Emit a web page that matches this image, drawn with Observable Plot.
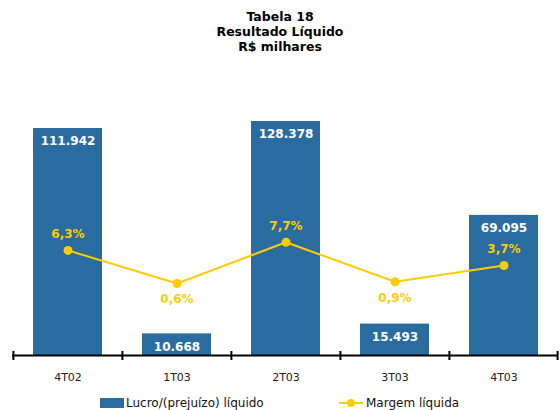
<!DOCTYPE html>
<html>
<head>
<meta charset="utf-8">
<script src="https://cdn.jsdelivr.net/npm/d3@7"></script>
<script src="https://cdn.jsdelivr.net/npm/@observablehq/plot@0.6"></script>
<style>
  body { margin: 0; width: 560px; height: 410px; overflow: hidden; background: #fff; font-family: "DejaVu Sans", sans-serif; position: relative; }
  #title { text-align: center; font-weight: bold; font-size: 12.5px; line-height: 15px; padding-top: 9px; height: 45px; color: #000; }
  #chart { height: 335px; }
  .leg { position: absolute; top: 396px; font-size: 12px; color: #111; display: flex; align-items: center; white-space: nowrap; }
  .sw { width: 24px; height: 10px; background: #2B6CA0; margin-right: 2px; }
  .ln { width: 24px; height: 10px; position: relative; margin-right: 3px; }
  .ln::before { content: ""; position: absolute; left: 0; right: 0; top: 4px; height: 2px; background: #FFCC00; }
  .ln::after { content: ""; position: absolute; left: 8px; top: 1px; width: 8px; height: 8px; border-radius: 50%; background: #FFCC00; }
</style>
</head>
<body>
<div id="title">Tabela 18<br>Resultado Líquido<br>R$ milhares</div>
<div id="chart"></div>
<div class="leg" style="left:100px"><div class="sw"></div>Lucro/(prejuízo) líquido</div>
<div class="leg" style="left:339px"><div class="ln"></div>Margem líquida</div>
<script>
const categories = ["4T02", "1T03", "2T03", "3T03", "4T03"];
const lucro = [111942, 10668, 128378, 15493, 69095];
const margem = [6.3, 0.6, 7.7, 0.9, 3.7];

const data = categories.map((c, i) => ({cat: c, lucro: lucro[i], margem: margem[i]}));

const loc = d3.formatLocale({decimal: ",", thousands: ".", grouping: [3], currency: ["R$", ""]});
const fmtInt = loc.format(",d");
const fmtPct = loc.format(".1f");

const W = 560, H = 335, mT = 67, mB = 34, mL = 12, mR = 2;
const yMax = 115400;
const bw = (W - mL - mR) / categories.length;
// secondary axis for the margin line
const m2y = d3.scaleLinear().domain([-11.8, 28.5]).range([0, yMax]);
const plotH = H - mT - mB;

const blue = "#2B6CA0", yellow = "#FFCC00";

const chart = Plot.plot({
  width: W, height: H,
  marginTop: mT, marginBottom: mB, marginLeft: mL, marginRight: mR,
  style: {fontFamily: "DejaVu Sans, sans-serif", background: "white"},
  x: {domain: categories, padding: 0, axis: null},
  y: {domain: [0, yMax], clamp: true, axis: null},
  marks: [
    Plot.barY(data, {x: "cat", y: "lucro", fill: blue, insetLeft: 20, insetRight: 20}),
    Plot.text(data, {x: "cat", y: "lucro", text: d => fmtInt(d.lucro), dy: 13, fill: "white", fontWeight: "bold", fontSize: 12}),
    Plot.ruleY([0], {stroke: "black", strokeWidth: 2}),
    Plot.ruleX(categories, {x: d => d, dx: -bw / 2, stroke: "black", strokeWidth: 2, insetTop: plotH - 4, insetBottom: -5}),
    Plot.ruleX(categories.slice(-1), {x: d => d, dx: bw / 2 - 1, stroke: "black", strokeWidth: 2, insetTop: plotH - 4, insetBottom: -5}),
    Plot.line(data, {x: "cat", y: d => m2y(d.margem), stroke: yellow, strokeWidth: 2}),
    Plot.dot(data, {x: "cat", y: d => m2y(d.margem), r: 4.5, fill: yellow}),
    Plot.text(data, {filter: d => d.margem >= 1, x: "cat", y: d => m2y(d.margem), text: d => fmtPct(d.margem) + "%", dy: -16, fill: yellow, fontWeight: "bold", fontSize: 12}),
    Plot.text(data, {filter: d => d.margem < 1, x: "cat", y: d => m2y(d.margem), text: d => fmtPct(d.margem) + "%", dy: 16, fill: yellow, fontWeight: "bold", fontSize: 12}),
    Plot.axisX({tickSize: 0, tickPadding: 18, fontSize: 11, fill: "#222", label: null})
  ]
});
document.getElementById("chart").appendChild(chart);
</script>
</body>
</html>
